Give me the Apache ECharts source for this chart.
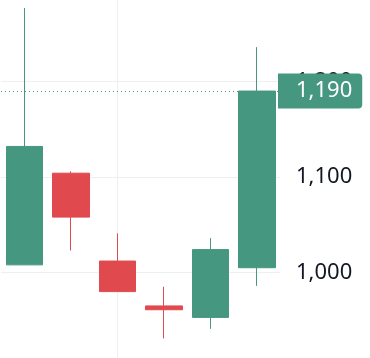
<!DOCTYPE html>
<html>
<head>
<meta charset="utf-8">
<script src="https://cdn.jsdelivr.net/npm/echarts@6/dist/echarts.min.js"></script>
<style>html,body{margin:0;padding:0;background:#fff;}#c{width:370px;height:358px;}</style>
</head>
<body>
<div id="c"></div>
<script>
const categories = ['1', '2', '3', '4', '5', '6'];
const opens  = [1008, 1104, 1012, 965, 953, 1005];
const closes = [1132, 1058, 980, 961, 1024, 1190];
const lows   = [1008, 1023, 980, 931, 941, 986];
const highs  = [1277, 1106, 1041, 985, 1036, 1236];
const lastPrice = 1190;
const yTicks = [900, 1000, 1100, 1200, 1300];

const UP = '#469780';
const DOWN = '#e0494e';
const FONT = '"Noto Sans"';

const ohlc = categories.map((c, i) => [opens[i], closes[i], lows[i], highs[i]]);

const chart = echarts.init(document.getElementById('c'), null, {renderer: 'canvas'});
chart.setOption({
  animation: false,
  backgroundColor: '#ffffff',
  grid: {left: 1, right: 90, top: -14, bottom: -10, containLabel: false, outerBoundsMode: 'none'},
  xAxis: {
    type: 'category',
    data: categories,
    boundaryGap: true,
    axisLine: {show: false},
    axisTick: {show: false},
    axisLabel: {show: false},
    splitLine: {
      show: true,
      alignWithLabel: true,
      interval: function (i) { return i === 2; },
      lineStyle: {color: '#efefef', width: 1}
    }
  },
  yAxis: {
    type: 'value',
    position: 'right',
    min: yTicks[0],
    max: yTicks[yTicks.length - 1],
    interval: 100,
    axisLine: {show: false},
    axisTick: {show: false},
    axisLabel: {
      margin: 16,
      color: '#131722',
      fontFamily: FONT,
      fontSize: 22,
      formatter: v => v.toLocaleString('en-US')
    },
    splitLine: {show: true, lineStyle: {color: '#efefef', width: 1}}
  },
  series: [{
    type: 'candlestick',
    data: ohlc,
    barWidth: 37,
    itemStyle: {
      color: UP,
      color0: DOWN,
      borderColor: UP,
      borderColor0: DOWN,
      borderWidth: 1
    },
    markLine: {
      silent: true,
      symbol: ['none', 'none'],
      lineStyle: {color: UP, type: [1, 3], width: 1},
      label: {
        show: true,
        position: 'end',
        distance: -2,
        formatter: () => lastPrice.toLocaleString('en-US'),
        backgroundColor: UP,
        color: '#ffffff',
        fontFamily: FONT,
        fontSize: 22,
        lineHeight: 22,
        padding: [7, 10, 6, 18],
        borderRadius: [0, 4, 4, 0]
      },
      data: [{yAxis: lastPrice}]
    }
  }]
});
</script>
</body>
</html>
